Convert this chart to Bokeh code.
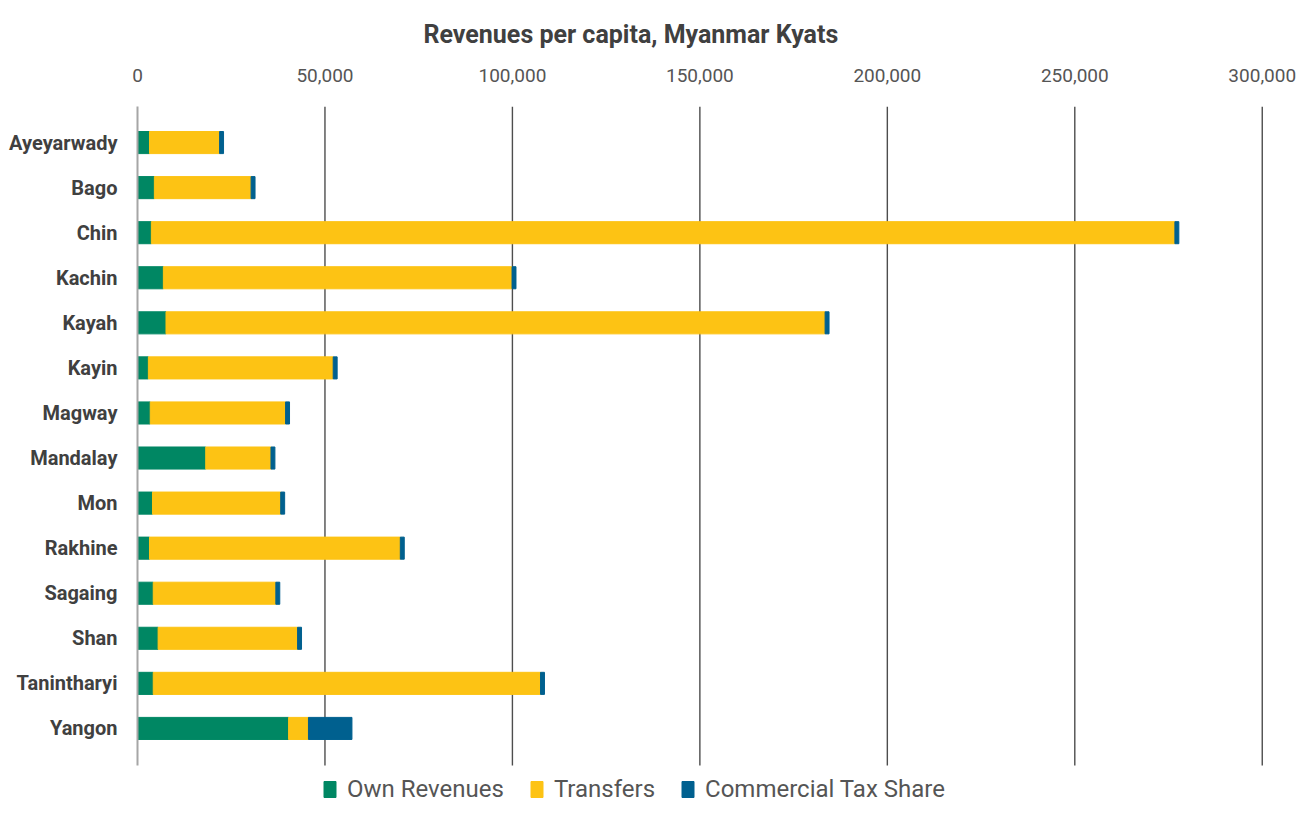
from bokeh.plotting import figure
from bokeh.models import (ColumnDataSource, Range1d, Legend, LegendItem,
                          FixedTicker, NumeralTickFormatter)
from bokeh.embed import file_html
from bokeh.resources import INLINE

categories = ["Ayeyarwady", "Bago", "Chin", "Kachin", "Kayah", "Kayin", "Magway",
              "Mandalay", "Mon", "Rakhine", "Sagaing", "Shan", "Tanintharyi", "Yangon"]
own_revenues = [3200, 4500, 3700, 6900, 7600, 2900, 3400, 18200, 4000, 3200, 4200, 5500, 4200, 40300]
transfers = [18700, 25800, 273000, 93000, 175800, 49300, 36100, 17400, 34200, 66900, 32700, 37200, 103300, 5300]
commercial_tax = [1050, 1050, 1050, 1050, 1050, 1050, 1050, 1050, 1050, 1050, 1050, 1050, 1050, 11600]
series = ["Own Revenues", "Transfers", "Commercial Tax Share"]
colors = ["#008763", "#FDC314", "#00608F"]
x_ticks = [0, 50000, 100000, 150000, 200000, 250000, 300000]

n = len(categories)
positions = [n - 1 - i for i in range(n)]  # first category at top

src = ColumnDataSource(dict(pos=positions, own=own_revenues,
                            transfers=transfers, cts=commercial_tax))

# vertical extent of the grid area (in row units) and of the whole frame
grid_top, grid_bottom = n - 1 + 0.80, -0.82
frame_bottom = -1.71

p = figure(width=1297, height=805,
           y_range=Range1d(frame_bottom, grid_top),
           x_range=Range1d(0, 300600),
           x_axis_location="above",
           output_backend="svg", toolbar_location=None,
           title="Revenues per capita, Myanmar Kyats",
           min_border_left=137, min_border_right=33,
           min_border_top=106, min_border_bottom=0)

# vertical grid lines, limited to the bar area
grid_x = x_ticks[1:]
p.segment(x0=grid_x, x1=grid_x, y0=[grid_bottom] * len(grid_x), y1=[grid_top] * len(grid_x),
          line_color="#4d4d4d", line_width=1.4, level="underlay")

renderers = p.hbar_stack(["own", "transfers", "cts"], y="pos", height=0.49,
                         color=colors, source=src)

p.title.align = "left"
p.title.offset = 286
p.title.standoff = 34
p.title.text_font = "Roboto"
p.title.text_font_size = "25px"
p.title.text_font_style = "bold"
p.title.text_color = "#404040"

xa = p.xaxis[0]
xa.ticker = FixedTicker(ticks=x_ticks)
xa.formatter = NumeralTickFormatter(format="0,0")
xa.axis_line_color = None
xa.major_tick_line_color = None
xa.minor_tick_line_color = None
xa.major_label_text_font = "Roboto"
xa.major_label_text_font_size = "19px"
xa.major_label_text_color = "#555555"
xa.major_label_standoff = 19

ya = p.yaxis[0]
ya.ticker = FixedTicker(ticks=positions)
ya.major_label_overrides = {pos: cat for pos, cat in zip(positions, categories)}
ya.bounds = (grid_bottom, grid_top)
ya.axis_line_color = "#a6a6a6"
ya.axis_line_width = 2
ya.major_tick_line_color = None
ya.minor_tick_line_color = None
ya.major_label_text_font = "Roboto"
ya.major_label_text_font_size = "20px"
ya.major_label_text_font_style = "bold"
ya.major_label_text_color = "#404040"
ya.major_label_standoff = 14

p.xgrid.grid_line_color = None
p.ygrid.grid_line_color = None
p.outline_line_color = None

items = [LegendItem(label=s, renderers=[r]) for s, r in zip(series, renderers)]
legend = Legend(items=items, orientation="horizontal", location=(185, 2),
                glyph_width=15, glyph_height=20, label_standoff=10, spacing=25,
                label_text_font="Roboto", label_text_font_size="24px",
                label_text_color="#555555", border_line_color=None,
                background_fill_alpha=0, padding=0, margin=0)
p.add_layout(legend)

open("out.html", "w").write(file_html(p, INLINE))
